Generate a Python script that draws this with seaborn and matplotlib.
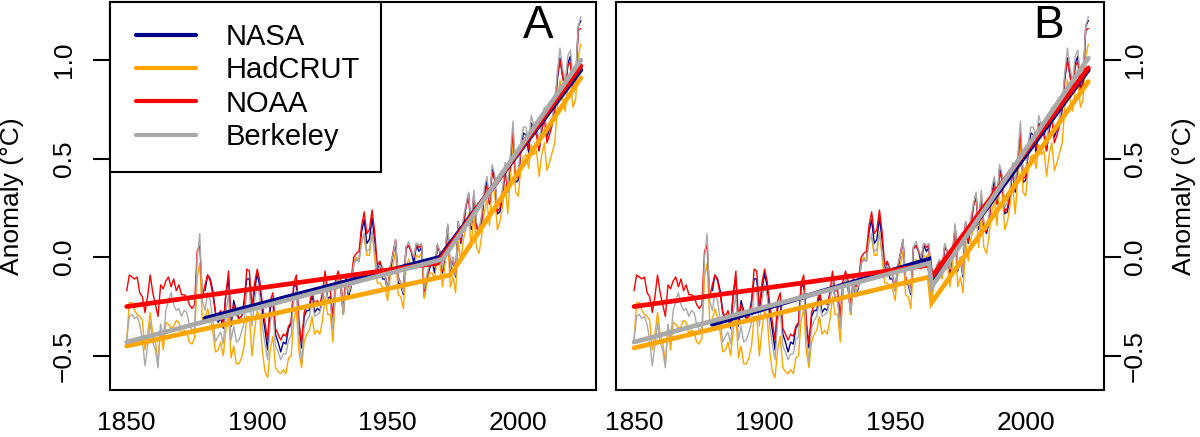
import numpy as np
import pandas as pd
import matplotlib
matplotlib.use("Agg")
import matplotlib.pyplot as plt
from matplotlib.lines import Line2D
from matplotlib.legend_handler import HandlerLine2D
import seaborn as sns

# ---------------- data ----------------
first_year = 1850
last_year = 2024
nasa_first_year = 1880

hadcrut = [
    -0.42, -0.23, -0.23, -0.27, -0.29, -0.30, -0.32, -0.47, -0.39, -0.28,
    -0.39, -0.43, -0.54, -0.34, -0.47, -0.33, -0.34, -0.36, -0.35, -0.32,
    -0.33, -0.39, -0.37, -0.38, -0.43, -0.44, -0.41, -0.10, -0.03, -0.32,
    -0.32, -0.26, -0.31, -0.38, -0.48, -0.47, -0.43, -0.50, -0.37, -0.29,
    -0.51, -0.45, -0.54, -0.54, -0.51, -0.45, -0.30, -0.30, -0.50, -0.37,
    -0.27, -0.31, -0.48, -0.58, -0.61, -0.47, -0.40, -0.56, -0.58, -0.59,
    -0.57, -0.59, -0.51, -0.50, -0.32, -0.26, -0.48, -0.56, -0.43, -0.39,
    -0.37, -0.30, -0.39, -0.37, -0.39, -0.32, -0.20, -0.29, -0.29, -0.43,
    -0.17, -0.10, -0.14, -0.29, -0.13, -0.18, -0.14, -0.02, 0.00, -0.02,
    0.10, 0.10, 0.01, 0.01, 0.13, 0.00, -0.13, -0.13, -0.15, -0.16,
    -0.22, -0.09, -0.04, 0.03, -0.19, -0.20, -0.26, -0.05, -0.01, -0.05,
    -0.06, 0.01, 0.00, 0.02, -0.21, -0.13, -0.08, -0.08, -0.11, 0.00,
    -0.04, -0.15, -0.03, 0.08, -0.15, -0.10, -0.18, 0.08, -0.02, 0.09,
    0.15, 0.22, 0.05, 0.22, 0.05, 0.02, 0.11, 0.23, 0.29, 0.16,
    0.36, 0.32, 0.14, 0.18, 0.26, 0.37, 0.22, 0.40, 0.59, 0.33,
    0.31, 0.45, 0.51, 0.52, 0.45, 0.57, 0.52, 0.54, 0.41, 0.52,
    0.58, 0.44, 0.48, 0.53, 0.58, 0.76, 0.90, 0.80, 0.74, 0.86,
    0.89, 0.76, 0.80, 1.02, 1.08,
]

nasa = [
    -0.17, -0.09, -0.11, -0.17, -0.28, -0.33, -0.31, -0.36, -0.18, -0.11,
    -0.35, -0.22, -0.27, -0.31, -0.30, -0.22, -0.11, -0.11, -0.27, -0.17,
    -0.08, -0.15, -0.28, -0.37, -0.47, -0.26, -0.22, -0.39, -0.43, -0.48,
    -0.43, -0.44, -0.36, -0.34, -0.15, -0.14, -0.36, -0.46, -0.30, -0.27,
    -0.27, -0.19, -0.28, -0.26, -0.27, -0.22, -0.10, -0.21, -0.20, -0.36,
    -0.16, -0.09, -0.16, -0.29, -0.12, -0.20, -0.15, -0.03, -0.01, -0.02,
    0.13, 0.19, 0.07, 0.09, 0.20, 0.09, -0.07, -0.03, -0.11, -0.11,
    -0.17, -0.07, 0.01, 0.08, -0.13, -0.14, -0.19, 0.05, 0.06, 0.03,
    -0.03, 0.06, 0.03, 0.05, -0.20, -0.11, -0.06, -0.02, -0.08, 0.05,
    0.03, -0.08, 0.01, 0.16, -0.07, -0.01, -0.10, 0.18, 0.07, 0.16,
    0.26, 0.32, 0.14, 0.31, 0.16, 0.12, 0.18, 0.32, 0.39, 0.27,
    0.45, 0.40, 0.22, 0.23, 0.31, 0.45, 0.33, 0.46, 0.61, 0.38,
    0.39, 0.54, 0.63, 0.62, 0.53, 0.68, 0.64, 0.66, 0.54, 0.65,
    0.72, 0.61, 0.65, 0.68, 0.75, 0.90, 1.01, 0.92, 0.85, 0.98,
    1.02, 0.85, 0.89, 1.17, 1.20,
]

noaa = [
    -0.17, -0.09, -0.10, -0.11, -0.10, -0.18, -0.20, -0.28, -0.20, -0.09,
    -0.18, -0.24, -0.30, -0.14, -0.16, -0.12, -0.10, -0.15, -0.11, -0.17,
    -0.14, -0.19, -0.19, -0.20, -0.24, -0.26, -0.24, 0.03, 0.06, -0.20,
    -0.14, -0.09, -0.12, -0.19, -0.28, -0.30, -0.27, -0.34, -0.19, -0.07,
    -0.32, -0.24, -0.29, -0.31, -0.30, -0.24, -0.06, -0.07, -0.26, -0.13,
    -0.06, -0.12, -0.24, -0.33, -0.42, -0.22, -0.18, -0.36, -0.39, -0.42,
    -0.39, -0.40, -0.35, -0.33, -0.13, -0.09, -0.32, -0.44, -0.28, -0.24,
    -0.24, -0.17, -0.24, -0.22, -0.24, -0.18, -0.07, -0.17, -0.17, -0.30,
    -0.12, -0.07, -0.12, -0.25, -0.10, -0.15, -0.11, 0.00, 0.02, 0.03,
    0.16, 0.23, 0.12, 0.14, 0.24, 0.13, -0.04, -0.02, -0.06, -0.09,
    -0.16, -0.05, 0.02, 0.09, -0.10, -0.13, -0.17, 0.04, 0.06, 0.03,
    0.00, 0.07, 0.05, 0.06, -0.17, -0.10, -0.04, -0.02, -0.05, 0.06,
    0.03, -0.07, 0.03, 0.15, -0.06, 0.00, -0.08, 0.17, 0.08, 0.17,
    0.26, 0.30, 0.16, 0.32, 0.15, 0.13, 0.19, 0.32, 0.36, 0.27,
    0.43, 0.39, 0.23, 0.25, 0.32, 0.44, 0.34, 0.49, 0.64, 0.41,
    0.40, 0.54, 0.60, 0.61, 0.55, 0.67, 0.63, 0.62, 0.54, 0.64,
    0.71, 0.58, 0.62, 0.67, 0.75, 0.92, 1.00, 0.92, 0.84, 0.97,
    0.99, 0.84, 0.88, 1.15, 1.16,
]

berkeley = [
    -0.42, -0.30, -0.29, -0.31, -0.30, -0.34, -0.42, -0.55, -0.45, -0.33,
    -0.43, -0.47, -0.56, -0.34, -0.42, -0.27, -0.22, -0.18, -0.24, -0.27,
    -0.26, -0.30, -0.27, -0.28, -0.34, -0.37, -0.36, 0.00, 0.12, -0.22,
    -0.27, -0.18, -0.22, -0.32, -0.43, -0.40, -0.38, -0.44, -0.28, -0.19,
    -0.42, -0.35, -0.43, -0.42, -0.38, -0.33, -0.18, -0.17, -0.35, -0.22,
    -0.14, -0.20, -0.35, -0.44, -0.52, -0.33, -0.27, -0.45, -0.48, -0.52,
    -0.49, -0.49, -0.42, -0.40, -0.20, -0.17, -0.40, -0.53, -0.36, -0.32,
    -0.30, -0.22, -0.30, -0.29, -0.28, -0.22, -0.12, -0.21, -0.22, -0.36,
    -0.15, -0.10, -0.14, -0.28, -0.13, -0.18, -0.14, -0.03, -0.01, -0.02,
    0.07, 0.12, 0.03, 0.04, 0.13, 0.03, -0.08, -0.04, -0.07, -0.10,
    -0.17, -0.04, 0.01, 0.09, -0.11, -0.13, -0.18, 0.05, 0.08, 0.04,
    0.00, 0.07, 0.06, 0.07, -0.16, -0.09, -0.04, -0.01, -0.05, 0.07,
    0.03, -0.06, 0.04, 0.17, -0.06, 0.00, -0.09, 0.18, 0.10, 0.20,
    0.27, 0.33, 0.16, 0.34, 0.18, 0.14, 0.22, 0.35, 0.41, 0.29,
    0.47, 0.42, 0.25, 0.28, 0.35, 0.48, 0.36, 0.52, 0.69, 0.44,
    0.43, 0.58, 0.66, 0.66, 0.58, 0.72, 0.67, 0.69, 0.57, 0.69,
    0.76, 0.63, 0.67, 0.71, 0.78, 0.94, 1.06, 0.96, 0.89, 1.02,
    1.05, 0.90, 0.93, 1.17, 1.22,
]

# piecewise-linear fits (knot years / fitted values), panel A: continuous hinge
fitA_nasa_x = [1880, 1970, 2024]
fitA_nasa_y = [-0.31, 0.00, 0.95]
fitA_hadcrut_x = [1850, 1974, 2024]
fitA_hadcrut_y = [-0.45, -0.09, 0.91]
fitA_noaa_x = [1850, 1969, 2024]
fitA_noaa_y = [-0.25, -0.03, 0.97]
fitA_berkeley_x = [1850, 1971, 2024]
fitA_berkeley_y = [-0.43, -0.01, 1.00]

# panel B: discontinuous fit with a break after 1963
fitB_nasa_x = [1880, 1963, 1964, 2024]
fitB_nasa_y = [-0.34, -0.01, -0.13, 0.95]
fitB_hadcrut_x = [1850, 1963, 1964, 2024]
fitB_hadcrut_y = [-0.46, -0.10, -0.23, 0.89]
fitB_noaa_x = [1850, 1963, 1964, 2024]
fitB_noaa_y = [-0.25, -0.04, -0.10, 0.96]
fitB_berkeley_x = [1850, 1963, 1964, 2024]
fitB_berkeley_y = [-0.43, -0.03, -0.15, 1.01]

series_names = ["NASA", "HadCRUT", "NOAA", "Berkeley"]
colors = {"NASA": "#00008B", "HadCRUT": "#FFA500", "NOAA": "#FF0000", "Berkeley": "#A9A9A9"}
yticks = [-0.5, 0.0, 0.5, 1.0]
ytick_labels = ["\u22120.5", "0.0", "0.5", "1.0"]
xticks = [1850, 1900, 1950, 2000]
ylabel_text = "Anomaly (°C)"
panel_letters = ["A", "B"]

# ---------------- frames ----------------
years_all = np.arange(first_year, last_year + 1)
years_nasa = np.arange(nasa_first_year, last_year + 1)
raw = pd.concat([
    pd.DataFrame({"year": years_nasa, "anomaly": nasa, "series": "NASA"}),
    pd.DataFrame({"year": years_all, "anomaly": hadcrut, "series": "HadCRUT"}),
    pd.DataFrame({"year": years_all, "anomaly": noaa, "series": "NOAA"}),
    pd.DataFrame({"year": years_all, "anomaly": berkeley, "series": "Berkeley"}),
], ignore_index=True)

fitsA = {"NASA": (fitA_nasa_x, fitA_nasa_y), "HadCRUT": (fitA_hadcrut_x, fitA_hadcrut_y),
         "NOAA": (fitA_noaa_x, fitA_noaa_y), "Berkeley": (fitA_berkeley_x, fitA_berkeley_y)}
fitsB = {"NASA": (fitB_nasa_x, fitB_nasa_y), "HadCRUT": (fitB_hadcrut_x, fitB_hadcrut_y),
         "NOAA": (fitB_noaa_x, fitB_noaa_y), "Berkeley": (fitB_berkeley_x, fitB_berkeley_y)}

# ---------------- style ----------------
sns.set_style("white")
plt.rcParams["font.family"] = ["Liberation Sans", "DejaVu Sans"]
plt.rcParams["text.color"] = "black"
plt.rcParams["axes.labelcolor"] = "black"
plt.rcParams["xtick.color"] = "black"
plt.rcParams["ytick.color"] = "black"

W, H = 1200, 437
fig = plt.figure(figsize=(W / 100, H / 100), dpi=100)
axA = fig.add_axes([110 / W, 47 / H, 486 / W, 388 / H])
axB = fig.add_axes([616 / W, 47 / H, 488 / W, 388 / H])

FS = 19
TICKLEN = 12

def draw(ax, fits):
    for name in series_names:
        d = raw[raw["series"] == name]
        sns.lineplot(data=d, x="year", y="anomaly", color=colors[name], lw=1.0,
                     estimator=None, sort=False, ax=ax, legend=False)
    for name in series_names:
        fx, fy = fits[name]
        sns.lineplot(x=fx, y=fy, color=colors[name], lw=3.4, estimator=None,
                     sort=False, ax=ax, legend=False, solid_joinstyle="miter")
    ax.set_ylim(-0.673, 1.294)
    ax.set_xticks(xticks)
    ax.set_xticklabels([str(t) for t in xticks])
    ax.set_yticks(yticks)
    ax.set_yticklabels(ytick_labels)
    ax.set_xlabel("")
    ax.set_ylabel("")
    for s in ax.spines.values():
        s.set_visible(True)
        s.set_color("black")
        s.set_linewidth(1.5)
    ax.tick_params(axis="both", direction="out", length=TICKLEN, width=1.5,
                   colors="black", labelcolor="black", labelsize=FS)
    ax.tick_params(axis="x", pad=3.3)

draw(axA, fitsA)
draw(axB, fitsB)
axA.set_xlim(1843.6, 2029.8)
axB.set_xlim(1843.1, 2030.0)

# y ticks: A on left, B on right, labels rotated like base R
axA.tick_params(axis="y", left=True, right=False, labelleft=True, labelright=False, pad=12.8)
axB.tick_params(axis="y", left=False, right=True, labelleft=False, labelright=True, pad=1.7)
for lab in axA.get_yticklabels() + axB.get_yticklabels():
    lab.set_rotation(90)
    lab.set_va("center")

# axis titles
fig.text(12 / W, 1 - 196 / H, ylabel_text, rotation=90, ha="center", va="center", fontsize=FS)
fig.text(1184 / W, 1 - 196 / H, ylabel_text, rotation=90, ha="center", va="center", fontsize=FS)

axA.text(0.8813, 0.9387, panel_letters[0], transform=axA.transAxes, fontsize=33,
         ha="center", va="center")
axB.text(0.8867, 0.9394, panel_letters[1], transform=axB.transAxes, fontsize=33,
         ha="center", va="center")

handles = [Line2D([0], [0], color=colors[n], lw=3, solid_capstyle="round") for n in series_names]
hmap = {h: HandlerLine2D(xpad=0.18) for h in handles}
leg = axA.legend(handles, series_names, loc="upper left", bbox_to_anchor=(0, 1),
                 borderaxespad=0, fontsize=21, frameon=True, fancybox=False,
                 edgecolor="black", framealpha=1, borderpad=0.72,
                 handlelength=2.24, handletextpad=1.0, labelspacing=0.18,
                 handler_map=hmap)
leg.get_frame().set_linewidth(1.5)

fig.savefig("out.png", dpi=100)
